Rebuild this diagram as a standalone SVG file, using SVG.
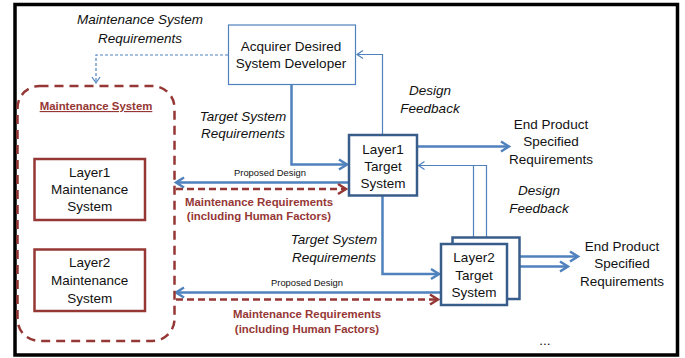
<svg xmlns="http://www.w3.org/2000/svg" width="685" height="358" viewBox="0 0 685 358">
<defs>
<style>
text{font-family:"Liberation Sans",Arial,sans-serif;fill:#111;}
.t{font-size:13.5px;text-anchor:middle;}
.i{font-size:13.5px;font-style:italic;text-anchor:middle;}
.s{font-size:9.4px;text-anchor:middle;}
.r{font-size:11.4px;font-weight:bold;fill:#953735;text-anchor:middle;}
.b{fill:none;stroke:#4f81bd;stroke-width:2.5;}
.bt{fill:none;stroke:#4f81bd;stroke-width:1.2;}
.rd{fill:none;stroke:#953735;stroke-width:2.5;stroke-dasharray:7 4;}
.box{fill:#fff;stroke:#385d8a;stroke-width:2.5;}
.rbox{fill:#fff;stroke:#953735;stroke-width:2.5;}
</style>
<marker id="ab" markerUnits="userSpaceOnUse" markerWidth="14" markerHeight="14" viewBox="-10 -7 12 14" refX="0" refY="0" orient="auto">
<path d="M-8,-5 L0,0 L-8,5" fill="none" stroke="#4f81bd" stroke-width="2.5"/>
</marker>
<marker id="ar" markerUnits="userSpaceOnUse" markerWidth="14" markerHeight="14" viewBox="-10 -7 12 14" refX="0" refY="0" orient="auto">
<path d="M-8,-5 L0,0 L-8,5" fill="none" stroke="#953735" stroke-width="2.5"/>
</marker>
<marker id="at" markerUnits="userSpaceOnUse" markerWidth="10" markerHeight="10" viewBox="-8 -5 10 10" refX="0" refY="0" orient="auto">
<path d="M-6,-4 L0,0 L-6,4" fill="none" stroke="#4f81bd" stroke-width="1.2"/>
</marker>
</defs>
<rect x="0" y="0" width="685" height="358" fill="#fff"/>
<rect x="15" y="4.5" width="662.5" height="350.5" fill="none" stroke="#000" stroke-width="3.5"/>

<g id="labels">
<text class="i" x="140" y="24">Maintenance System</text>
<text class="i" x="140" y="42.5">Requirements</text>
<text class="i" x="243" y="120.5">Target System</text>
<text class="i" x="243" y="138">Requirements</text>
<text class="i" x="334" y="244">Target System</text>
<text class="i" x="334" y="261.5">Requirements</text>
<text class="i" x="430" y="95">Design</text>
<text class="i" x="430" y="113">Feedback</text>
<text class="i" x="539" y="195">Design</text>
<text class="i" x="539" y="212.5">Feedback</text>
<text class="s" x="270" y="175.5">Proposed Design</text>
<text class="s" x="307" y="285.5">Proposed Design</text>
<text class="r" x="259" y="205.5">Maintenance Requirements</text>
<text class="r" x="259" y="220">(including Human Factors)</text>
<text class="r" x="307" y="318">Maintenance Requirements</text>
<text class="r" x="307" y="333">(including Human Factors)</text>
<text class="t" x="551" y="128.5">End Product</text>
<text class="t" x="551" y="146">Specified</text>
<text class="t" x="551" y="163.5">Requirements</text>
<text class="t" x="622" y="250.5">End Product</text>
<text class="t" x="622" y="268">Specified</text>
<text class="t" x="622" y="285.5">Requirements</text>
<text class="t" x="545" y="345">...</text>
</g>

<g id="connectors">
<path class="bt" d="M228,55 H96 V83" stroke-dasharray="3 2" marker-end="url(#at)"/>
<path class="b" d="M291.5,85 V164.5 H347" marker-end="url(#ab)"/>
<path class="b" d="M382.5,195.5 V274 H439" marker-end="url(#ab)"/>
<path class="b" d="M417,146.5 H509" marker-end="url(#ab)"/>
<path class="b" d="M519.5,256.5 H578" marker-end="url(#ab)"/>
<path class="b" d="M507,266.5 H568" marker-end="url(#ab)"/>
<path class="bt" d="M382.5,135 V54.5 H357" marker-end="url(#at)"/>
<path class="bt" d="M486.5,238 V165.5 H418.5" marker-end="url(#at)"/>
<path class="bt" d="M473.5,244 V165.5"/>
<path class="b" d="M348,182.5 H176" marker-end="url(#ab)"/>
<path class="rd" d="M176,189 H346" marker-end="url(#ar)"/>
<path class="b" d="M440,292.5 H176" marker-end="url(#ab)"/>
<path class="rd" d="M176,299.5 H438" marker-end="url(#ar)"/>
</g>

<g id="maintenance-system">
<rect x="17.5" y="86" width="157" height="255" rx="22" ry="22" fill="none" stroke="#953735" stroke-width="2.5" stroke-dasharray="9 6"/>
<text x="96" y="110" font-size="11.4" font-weight="bold" fill="#953735" text-anchor="middle" text-decoration="underline" style="fill:#953735">Maintenance System</text>
</g>

<g id="layer1-maintenance">
<rect class="rbox" x="34.5" y="159" width="110.5" height="61"/>
<text class="t" x="89.7" y="176.5">Layer1</text>
<text class="t" x="89.7" y="194">Maintenance</text>
<text class="t" x="89.7" y="211">System</text>
</g>

<g id="layer2-maintenance">
<rect class="rbox" x="34.5" y="249.5" width="110.5" height="61.5"/>
<text class="t" x="89.7" y="267">Layer2</text>
<text class="t" x="89.7" y="285">Maintenance</text>
<text class="t" x="89.7" y="302.5">System</text>
</g>

<g id="acquirer">
<rect x="228.5" y="25" width="127" height="59.5" fill="#fff" stroke="#4f81bd" stroke-width="1.2"/>
<text class="t" x="291" y="50.5">Acquirer Desired</text>
<text class="t" x="291" y="68">System Developer</text>
</g>

<g id="layer1-target">
<rect class="box" x="349" y="135" width="68" height="60.5"/>
<text class="t" x="383" y="153.5">Layer1</text>
<text class="t" x="383" y="171">Target</text>
<text class="t" x="383" y="188">System</text>
</g>

<g id="layer2-target">
<rect class="box" x="452.5" y="237.5" width="67" height="61.5" stroke-width="2.2"/>
<rect class="box" x="441" y="244" width="66" height="61" stroke-width="2.2"/>
<text class="t" x="474" y="262">Layer2</text>
<text class="t" x="474" y="279.5">Target</text>
<text class="t" x="474" y="296.5">System</text>
</g>
</svg>
